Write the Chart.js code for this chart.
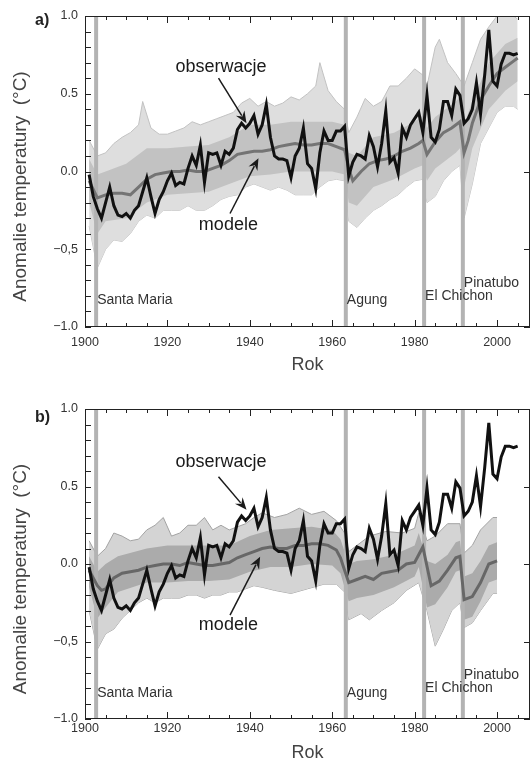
<!DOCTYPE html>
<html>
<head>
<meta charset="utf-8">
<script src="https://cdn.jsdelivr.net/npm/chart.js@4.4.1/dist/chart.umd.min.js"></script>
<style>
  html, body { margin: 0; padding: 0; background: #fff; }
  .panel { width: 531px; height: 381px; }
</style>
</head>
<body>
<div class="panel"><canvas id="chartA" width="531" height="381"></canvas></div>
<div class="panel"><canvas id="chartB" width="531" height="381"></canvas></div>
<script>
const FONT = "'Liberation Sans', Arial, sans-serif";

// observations (same in both panels), annual anomalies
const obsYears = Array.from({ length: 105 }, (_, i) => 1901 + i);
const obsValues = [
  -0.02, -0.16, -0.24, -0.30, -0.20, -0.10, -0.22, -0.28, -0.29, -0.27,
  -0.30, -0.25, -0.22, -0.13, -0.04, -0.16, -0.27, -0.18, -0.13, -0.06,
  -0.01, -0.09, -0.07, -0.08, 0.02, 0.10, 0.04, 0.17, -0.07, 0.12,
  0.11, 0.12, 0.04, 0.13, 0.11, 0.15, 0.27, 0.31, 0.28, 0.31,
  0.36, 0.24, 0.30, 0.43, 0.22, 0.10, 0.08, 0.08, 0.07, -0.04,
  0.10, 0.15, 0.28, 0.05, 0.02, -0.11, 0.12, 0.26, 0.20, 0.20,
  0.26, 0.26, 0.29, -0.03, 0.06, 0.11, 0.10, 0.08, 0.23, 0.16,
  0.03, 0.18, 0.39, 0.06, 0.09, -0.01, 0.28, 0.22, 0.30, 0.34,
  0.38, 0.25, 0.49, 0.22, 0.19, 0.27, 0.45, 0.45, 0.36, 0.53,
  0.49, 0.31, 0.34, 0.40, 0.57, 0.37, 0.62, 0.91, 0.58, 0.55,
  0.69, 0.76, 0.76, 0.75, 0.76
];

// panel a) models with all forcings
const aMeanYears = [1901,1903,1905,1907,1909,1911,1913,1915,1917,1919,1921,1923,1925,1927,1929,1931,1933,1935,1937,1939,1941,1943,1945,1947,1949,1951,1953,1955,1957,1959,1961,1963,1964,1965,1967,1969,1971,1973,1975,1977,1979,1981,1982,1983,1985,1987,1989,1991,1992,1993,1994,1996,1998,2000,2002,2004,2005];
const aMeanValues = [-0.06,-0.17,-0.15,-0.14,-0.14,-0.15,-0.10,-0.05,-0.02,-0.01,0.00,0.00,0.01,0.00,0.00,0.02,0.04,0.07,0.11,0.12,0.13,0.13,0.14,0.16,0.17,0.18,0.17,0.17,0.18,0.18,0.16,0.14,0.02,-0.06,0.00,0.05,0.07,0.08,0.10,0.13,0.15,0.18,0.20,0.11,0.19,0.25,0.28,0.32,0.12,0.20,0.31,0.46,0.55,0.63,0.67,0.71,0.73];
const aCoreYears = [1901,1903,1905,1910,1915,1920,1925,1930,1935,1940,1945,1950,1955,1960,1963,1964,1966,1970,1975,1980,1982,1983,1985,1990,1991,1992,1994,1998,2002,2005];
const aCoreUpper = [0.08,-0.02,0.00,0.05,0.15,0.15,0.16,0.17,0.22,0.30,0.30,0.32,0.32,0.32,0.30,0.12,0.10,0.22,0.25,0.32,0.36,0.28,0.35,0.45,0.48,0.30,0.45,0.70,0.82,0.86];
const aCoreLower = [-0.20,-0.40,-0.32,-0.30,-0.20,-0.15,-0.14,-0.13,-0.08,-0.03,-0.02,0.00,0.00,0.00,-0.02,-0.20,-0.22,-0.10,-0.05,0.02,0.04,-0.06,0.02,0.12,0.15,-0.10,0.15,0.40,0.52,0.58];
const aOuterUpYears = [1901,1903,1905,1907,1909,1911,1913,1914,1916,1918,1920,1922,1924,1926,1928,1930,1932,1934,1936,1938,1940,1942,1944,1946,1948,1950,1952,1954,1956,1957,1959,1961,1963,1964,1966,1968,1970,1972,1974,1976,1978,1980,1982,1983,1985,1986,1988,1990,1992,1994,1996,1998,2000,2002,2004,2005];
const aOuterUp = [0.20,0.10,0.12,0.18,0.22,0.25,0.30,0.45,0.28,0.24,0.24,0.26,0.28,0.32,0.30,0.32,0.34,0.36,0.38,0.44,0.47,0.42,0.45,0.42,0.44,0.48,0.46,0.50,0.55,0.70,0.52,0.45,0.40,0.25,0.35,0.47,0.42,0.45,0.55,0.55,0.60,0.66,0.62,0.55,0.80,0.85,0.70,0.63,0.55,0.70,0.85,0.93,1.00,1.00,1.00,0.98];
const aOuterLoYears = [1901,1903,1905,1907,1909,1911,1913,1915,1917,1919,1921,1923,1925,1927,1929,1931,1933,1935,1937,1939,1941,1943,1945,1947,1949,1951,1953,1955,1957,1959,1961,1963,1964,1966,1968,1970,1972,1974,1976,1978,1980,1982,1983,1985,1987,1989,1991,1992,1994,1996,1998,2000,2002,2004,2005];
const aOuterLo = [-0.35,-0.62,-0.50,-0.44,-0.45,-0.40,-0.32,-0.28,-0.30,-0.25,-0.25,-0.25,-0.22,-0.25,-0.25,-0.22,-0.18,-0.16,-0.15,-0.10,-0.08,-0.10,-0.12,-0.10,-0.12,-0.15,-0.15,-0.15,-0.10,-0.06,-0.05,-0.06,-0.32,-0.36,-0.30,-0.25,-0.22,-0.18,-0.15,-0.10,-0.06,-0.05,-0.20,-0.16,-0.06,0.00,0.04,-0.30,-0.08,0.18,0.28,0.38,0.42,0.42,0.40];

// panel b) models with natural forcings only
const bMeanYears = [1901,1903,1904,1905,1907,1909,1911,1913,1915,1917,1919,1921,1923,1925,1927,1929,1931,1933,1935,1937,1939,1941,1943,1945,1947,1949,1951,1953,1955,1957,1959,1961,1962,1964,1966,1968,1970,1972,1974,1976,1978,1980,1982,1984,1986,1988,1990,1991,1992,1994,1996,1998,2000];
const bMeanValues = [-0.04,-0.14,-0.17,-0.16,-0.09,-0.06,-0.05,-0.04,-0.02,-0.01,0.00,0.00,-0.01,0.01,0.00,-0.01,-0.01,0.00,0.01,0.04,0.06,0.08,0.10,0.11,0.10,0.10,0.12,0.12,0.13,0.13,0.12,0.09,0.04,-0.12,-0.10,-0.08,-0.10,-0.06,-0.05,-0.04,0.00,0.01,0.11,-0.14,-0.11,-0.04,0.04,0.05,-0.23,-0.21,-0.12,0.00,0.02];
const bCoreYears = [1901,1903,1905,1908,1915,1920,1925,1930,1935,1940,1945,1950,1955,1960,1962,1964,1966,1970,1975,1980,1981,1983,1985,1988,1990,1991,1992,1994,1996,1998,2000];
const bCoreUpper = [0.05,-0.05,0.00,0.05,0.10,0.12,0.12,0.12,0.12,0.18,0.22,0.23,0.24,0.22,0.16,0.00,0.02,0.03,0.06,0.12,0.20,0.02,0.00,0.06,0.14,0.15,-0.08,-0.06,0.02,0.12,0.14];
const bCoreLower = [-0.15,-0.35,-0.28,-0.18,-0.12,-0.12,-0.11,-0.11,-0.10,-0.05,-0.02,-0.02,0.00,-0.01,-0.06,-0.24,-0.22,-0.20,-0.15,-0.08,-0.02,-0.28,-0.26,-0.15,-0.05,-0.04,-0.36,-0.34,-0.24,-0.12,-0.10];
const bOuterUpYears = [1901,1903,1905,1907,1909,1911,1913,1915,1917,1919,1921,1923,1925,1927,1929,1931,1933,1935,1937,1939,1941,1943,1946,1949,1952,1955,1958,1961,1963,1964,1966,1969,1973,1977,1980,1981,1983,1985,1988,1991,1992,1994,1996,1999,2000];
const bOuterUp = [0.15,0.05,0.10,0.20,0.18,0.15,0.16,0.22,0.25,0.30,0.18,0.20,0.25,0.25,0.30,0.22,0.25,0.22,0.24,0.26,0.30,0.33,0.30,0.32,0.36,0.32,0.34,0.28,0.20,0.08,0.12,0.18,0.21,0.20,0.23,0.33,0.15,0.18,0.26,0.26,0.07,0.12,0.22,0.30,0.30];
const bOuterLoYears = [1901,1903,1905,1907,1909,1911,1913,1915,1917,1919,1921,1923,1925,1927,1929,1931,1933,1935,1937,1939,1941,1943,1946,1950,1954,1958,1961,1963,1964,1967,1969,1972,1975,1978,1981,1983,1985,1987,1989,1991,1992,1994,1996,1999,2000];
const bOuterLo = [-0.30,-0.55,-0.45,-0.42,-0.35,-0.30,-0.25,-0.22,-0.25,-0.22,-0.22,-0.22,-0.20,-0.20,-0.22,-0.20,-0.20,-0.18,-0.18,-0.16,-0.14,-0.15,-0.17,-0.19,-0.16,-0.13,-0.13,-0.18,-0.36,-0.32,-0.36,-0.30,-0.25,-0.17,-0.12,-0.30,-0.53,-0.42,-0.30,-0.25,-0.41,-0.38,-0.30,-0.19,-0.19];

// volcanic eruptions
const volcanoNames = ['Santa Maria', 'Agung', 'El Chichon', 'Pinatubo'];
const volcanoYears = [1902.7, 1963.3, 1982.3, 1991.7];
const volcanoLabelY = [-0.83, -0.83, -0.80, -0.715];

const yTickLabels = ['\u22121.0', '\u22120,5', '0.0', '0.5', '1.0'];

const pts = (xs, ys) => xs.map((v, i) => ({ x: v, y: ys[i] }));

function arrow(ctx, x0, y0, x1, y1) {
  const ang = Math.atan2(y1 - y0, x1 - x0);
  const head = 12, half = 5;
  const c = Math.cos(ang), s = Math.sin(ang);
  const bx = x1 - head * c, by = y1 - head * s;
  ctx.beginPath();
  ctx.moveTo(x0, y0);
  ctx.lineTo(bx + 3 * c, by + 3 * s);
  ctx.stroke();
  ctx.beginPath();
  ctx.moveTo(x1, y1);
  ctx.lineTo(bx + half * s, by - half * c);
  ctx.lineTo(bx + 4 * c, by + 4 * s);
  ctx.lineTo(bx - half * s, by + half * c);
  ctx.closePath();
  ctx.fill();
}

function makeDecor(p) {
  return {
    id: 'decor',
    afterDatasetDraw(chart, args) {
      if (args.index !== 2) return;
      const { ctx, chartArea: a, scales: { x } } = chart;
      ctx.save();
      ctx.strokeStyle = '#b3b3b3';
      ctx.lineWidth = 4;
      volcanoYears.forEach(v => {
        const px = x.getPixelForValue(v);
        ctx.beginPath();
        ctx.moveTo(px, a.top);
        ctx.lineTo(px, a.bottom);
        ctx.stroke();
      });
      ctx.restore();
    },
    afterDraw(chart) {
      const { ctx, chartArea: a, scales: { x, y } } = chart;
      ctx.save();
      // frame and inward ticks
      ctx.strokeStyle = '#222';
      ctx.lineWidth = 1;
      ctx.strokeRect(a.left + 0.5, a.top + 0.5, a.right - a.left - 1, a.bottom - a.top - 1);
      ctx.beginPath();
      for (let yr = 1900; yr <= 2005; yr += 5) {
        const px = Math.round(x.getPixelForValue(yr)) + 0.5;
        const len = yr % 20 === 0 ? 7 : 4;
        ctx.moveTo(px, a.bottom);
        ctx.lineTo(px, a.bottom - len);
        ctx.moveTo(px, a.top);
        ctx.lineTo(px, a.top + len);
      }
      for (let k = -10; k <= 10; k++) {
        const py = Math.round(y.getPixelForValue(k / 10)) + 0.5;
        ctx.moveTo(a.left, py);
        ctx.lineTo(a.left + 6, py);
        if (k % 5 === 0) {
          ctx.moveTo(a.right, py);
          ctx.lineTo(a.right - 6, py);
        }
      }
      ctx.stroke();

      // volcano names
      ctx.fillStyle = '#333';
      ctx.font = '14px ' + FONT;
      ctx.textAlign = 'left';
      ctx.textBaseline = 'middle';
      volcanoNames.forEach((n, i) => {
        ctx.fillText(n, x.getPixelForValue(volcanoYears[i]) + 1, y.getPixelForValue(volcanoLabelY[i]));
      });

      // labels with arrows
      ctx.fillStyle = '#1a1a1a';
      ctx.strokeStyle = '#1a1a1a';
      ctx.lineWidth = 1.5;
      ctx.font = '18px ' + FONT;
      ctx.textAlign = 'center';
      ctx.fillText('obserwacje', x.getPixelForValue(p.obsText[0]), y.getPixelForValue(p.obsText[1]));
      ctx.fillText('modele', x.getPixelForValue(p.modText[0]), y.getPixelForValue(p.modText[1]));
      [p.obsArrow, p.modArrow].forEach(r => {
        arrow(ctx, x.getPixelForValue(r[0]), y.getPixelForValue(r[1]),
                   x.getPixelForValue(r[2]), y.getPixelForValue(r[3]));
      });

      // panel tag
      ctx.font = 'bold 16px ' + FONT;
      ctx.textAlign = 'left';
      ctx.fillStyle = '#222';
      ctx.fillText(p.tag, 35, a.top + p.tagDy);

      // y axis title
      ctx.translate(21, (a.top + a.bottom) / 2 + 15);
      ctx.rotate(-Math.PI / 2);
      ctx.font = '19px ' + FONT;
      ctx.fillStyle = '#444';
      ctx.textAlign = 'center';
      ctx.fillText('Anomalie temperatury  (\u00B0C)', 0, 0);
      ctx.restore();
    }
  };
}

function panel(id, p) {
  return new Chart(document.getElementById(id), {
    type: 'line',
    data: {
      datasets: [
        { data: pts(obsYears, obsValues), borderColor: '#111', borderWidth: 3, pointRadius: 0, fill: false },
        { data: pts(p.meanYears, p.meanValues), borderColor: p.meanColor, borderWidth: 3, pointRadius: 0, fill: false },
        { data: pts(p.coreYears, p.coreUpper), borderWidth: 0, pointRadius: 0, fill: '+1', backgroundColor: p.coreFill },
        { data: pts(p.coreYears, p.coreLower), borderWidth: 0, pointRadius: 0, fill: false },
        { data: pts(p.outerUpYears, p.outerUp), borderColor: p.edge, borderWidth: 1, pointRadius: 0, fill: '+1', backgroundColor: p.outerFill },
        { data: pts(p.outerLoYears, p.outerLo), borderColor: p.edge, borderWidth: 1, pointRadius: 0, fill: false }
      ]
    },
    options: {
      responsive: false,
      animation: false,
      layout: { padding: { top: p.padTop, right: 1, left: 0, bottom: 0 } },
      plugins: { legend: { display: false }, tooltip: { enabled: false } },
      scales: {
        x: {
          type: 'linear', min: 1900, max: 2008,
          afterFit: s => { s.height = p.xHeight; },
          grid: { display: false, drawTicks: false },
          border: { display: false },
          ticks: {
            stepSize: 20, includeBounds: false, autoSkip: false, maxRotation: 0,
            padding: p.tickPad, color: '#333', font: { family: FONT, size: 12.5 },
            callback: v => String(v)
          },
          title: {
            display: true, text: 'Rok', color: '#444',
            font: { family: FONT, size: 18, lineHeight: 1 },
            padding: { top: 0, bottom: p.rokPad }
          }
        },
        y: {
          min: -1, max: 1,
          afterFit: s => { s.width = 85; },
          grid: { display: false, drawTicks: false },
          border: { display: false },
          ticks: {
            stepSize: 0.5, padding: 7, color: '#333', font: { family: FONT, size: 12.5 },
            callback: v => yTickLabels[Math.round(v * 2) + 2]
          }
        }
      }
    },
    plugins: [makeDecor(p)]
  });
}

panel('chartA', {
  tag: 'a)', tagDy: 5, padTop: 16, xHeight: 54, tickPad: 8, rokPad: 7,
  meanYears: aMeanYears, meanValues: aMeanValues, meanColor: '#747474',
  coreYears: aCoreYears, coreUpper: aCoreUpper, coreLower: aCoreLower, coreFill: '#c2c2c2',
  outerUpYears: aOuterUpYears, outerUp: aOuterUp, outerLoYears: aOuterLoYears, outerLo: aOuterLo,
  outerFill: '#dedede', edge: '#c2c2c2',
  obsText: [1933, 0.671], obsArrow: [1932.4, 0.60, 1939.2, 0.31],
  modText: [1934.8, -0.346], modArrow: [1935.2, -0.27, 1942.1, 0.086]
});

panel('chartB', {
  tag: 'b)', tagDy: 9, padTop: 28, xHeight: 43, tickPad: 2, rokPad: 0,
  meanYears: bMeanYears, meanValues: bMeanValues, meanColor: '#676767',
  coreYears: bCoreYears, coreUpper: bCoreUpper, coreLower: bCoreLower, coreFill: '#ababab',
  outerUpYears: bOuterUpYears, outerUp: bOuterUp, outerLoYears: bOuterLoYears, outerLo: bOuterLo,
  outerFill: '#d4d4d4', edge: '#a3a3a3',
  obsText: [1933, 0.655], obsArrow: [1932.4, 0.563, 1939.2, 0.35],
  modText: [1934.8, -0.394], modArrow: [1935.2, -0.33, 1942.5, 0.047]
});
</script>
</body>
</html>
